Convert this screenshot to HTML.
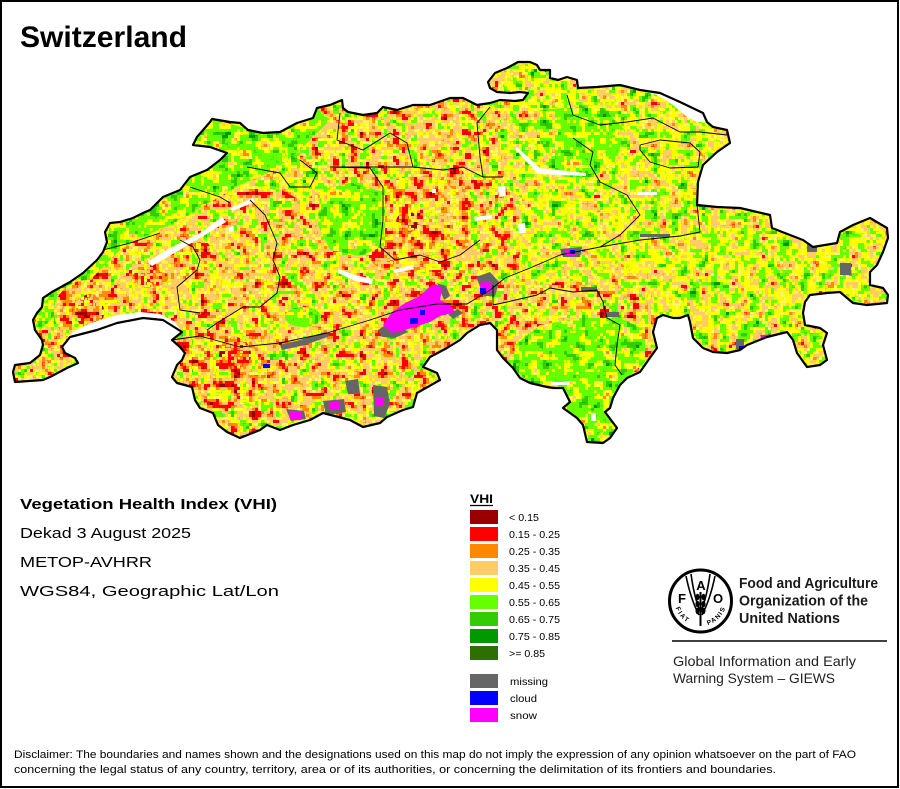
<!DOCTYPE html>
<html><head><meta charset="utf-8"><style>
html,body{margin:0;padding:0;background:#fff;}
svg{display:block;}
</style></head><body>
<svg width="900" height="789" viewBox="0 0 900 789" xmlns="http://www.w3.org/2000/svg" font-family="'Liberation Sans', Arial, sans-serif">
<defs>
<filter id="fA" filterUnits="userSpaceOnUse" primitiveUnits="userSpaceOnUse" x="0" y="0" width="900" height="460" color-interpolation-filters="sRGB">
 <feTurbulence type="fractalNoise" baseFrequency="0.1" numOctaves="3" seed="7" result="n"/>
 <feColorMatrix in="n" type="matrix" values="1.7 0 0 0 -0.35 1.7 0 0 0 -0.35 1.7 0 0 0 -0.35 0 0 0 0 1" result="s"/>
 <feComponentTransfer in="s" result="c">
  <feFuncR type="discrete" tableValues=".6 1 1 1 1 1 1 1 1 1 1 1 1 1 .4 .4 .4 .4 .2 .2"/>
  <feFuncG type="discrete" tableValues="0 0 0 0 0 .55 .55 .8 .8 .8 .8 1 1 1 1 1 1 1 .8 .8"/>
  <feFuncB type="discrete" tableValues="0 0 0 0 0 0 0 .4 .4 .4 .4 0 0 0 0 0 0 0 0 0"/>
 </feComponentTransfer>
 <feFlood x="1" y="1" width="1" height="1" flood-color="#000" result="f"/>
 <feComposite in="f" in2="f" operator="over" x="0" y="0" width="3" height="3"/>
 <feTile result="t"/>
 <feComposite in="c" in2="t" operator="in"/>
 <feMorphology operator="dilate" radius="1"/>
</filter>
<filter id="fB" filterUnits="userSpaceOnUse" primitiveUnits="userSpaceOnUse" x="0" y="0" width="900" height="460" color-interpolation-filters="sRGB">
 <feTurbulence type="fractalNoise" baseFrequency="0.1" numOctaves="3" seed="7" result="n"/>
 <feColorMatrix in="n" type="matrix" values="1.7 0 0 0 -0.35 1.7 0 0 0 -0.35 1.7 0 0 0 -0.35 0 0 0 0 1" result="s"/>
 <feComponentTransfer in="s" result="c">
  <feFuncR type="discrete" tableValues="1 1 1 1 1 1 1 1 .4 .4 .4 .4 .4 .4 .2 .2 .2 .2 0 0"/>
  <feFuncG type="discrete" tableValues=".55 .8 .8 1 1 1 1 1 1 1 1 1 1 1 .8 .8 .8 .8 .6 .6"/>
  <feFuncB type="discrete" tableValues="0 .4 .4 0 0 0 0 0 0 0 0 0 0 0 0 0 0 0 0 0"/>
 </feComponentTransfer>
 <feFlood x="1" y="1" width="1" height="1" flood-color="#000" result="f"/>
 <feComposite in="f" in2="f" operator="over" x="0" y="0" width="3" height="3"/>
 <feTile result="t"/>
 <feComposite in="c" in2="t" operator="in"/>
 <feMorphology operator="dilate" radius="1"/>
</filter>
<filter id="fC" filterUnits="userSpaceOnUse" primitiveUnits="userSpaceOnUse" x="0" y="0" width="900" height="460" color-interpolation-filters="sRGB">
 <feTurbulence type="fractalNoise" baseFrequency="0.1" numOctaves="3" seed="7" result="n"/>
 <feColorMatrix in="n" type="matrix" values="1.7 0 0 0 -0.35 1.7 0 0 0 -0.35 1.7 0 0 0 -0.35 0 0 0 0 1" result="s"/>
 <feComponentTransfer in="s" result="c">
  <feFuncR type="discrete" tableValues="1 1 1 1 1 1 1 1 1 1 1 1 .4 .4 .4 .4 .2 .2 .2 0"/>
  <feFuncG type="discrete" tableValues="0 .55 .55 .8 .8 .8 .8 .8 1 1 1 1 1 1 1 1 .8 .8 .8 .6"/>
  <feFuncB type="discrete" tableValues="0 0 0 .4 .4 .4 .4 .4 0 0 0 0 0 0 0 0 0 0 0 0"/>
 </feComponentTransfer>
 <feFlood x="1" y="1" width="1" height="1" flood-color="#000" result="f"/>
 <feComposite in="f" in2="f" operator="over" x="0" y="0" width="3" height="3"/>
 <feTile result="t"/>
 <feComposite in="c" in2="t" operator="in"/>
 <feMorphology operator="dilate" radius="1"/>
</filter>
<filter id="fD" filterUnits="userSpaceOnUse" primitiveUnits="userSpaceOnUse" x="0" y="0" width="900" height="460" color-interpolation-filters="sRGB">
 <feTurbulence type="fractalNoise" baseFrequency="0.1" numOctaves="3" seed="7" result="n"/>
 <feColorMatrix in="n" type="matrix" values="1.7 0 0 0 -0.35 1.7 0 0 0 -0.35 1.7 0 0 0 -0.35 0 0 0 0 1" result="s"/>
 <feComponentTransfer in="s" result="c">
  <feFuncR type="discrete" tableValues=".6 .6 .6 1 1 1 1 1 1 1 1 1 1 1 1 1 1 .6 .6 .6"/>
  <feFuncG type="discrete" tableValues="0 0 0 0 0 0 0 .55 .55 .55 .8 .8 0 0 1 1 .8 0 0 0"/>
  <feFuncB type="discrete" tableValues="0 0 0 0 0 0 0 0 0 0 .4 .4 0 0 0 0 .4 0 0 0"/>
 </feComponentTransfer>
 <feFlood x="1" y="1" width="1" height="1" flood-color="#000" result="f"/>
 <feComposite in="f" in2="f" operator="over" x="0" y="0" width="3" height="3"/>
 <feTile result="t"/>
 <feComposite in="c" in2="t" operator="in"/>
 <feMorphology operator="dilate" radius="1"/>
</filter>
<filter id="fE" filterUnits="userSpaceOnUse" primitiveUnits="userSpaceOnUse" x="0" y="0" width="900" height="460" color-interpolation-filters="sRGB">
 <feTurbulence type="fractalNoise" baseFrequency="0.1" numOctaves="3" seed="7" result="n"/>
 <feColorMatrix in="n" type="matrix" values="1.7 0 0 0 -0.35 1.7 0 0 0 -0.35 1.7 0 0 0 -0.35 0 0 0 0 1" result="s"/>
 <feComponentTransfer in="s" result="c">
  <feFuncR type="discrete" tableValues=".6 .6 1 1 1 1 1 1 1 1 1 1 1 1 1 .4 .4 1 1 1"/>
  <feFuncG type="discrete" tableValues="0 0 0 0 0 0 .55 .55 .55 .8 .8 .8 1 1 1 1 1 1 1 1"/>
  <feFuncB type="discrete" tableValues="0 0 0 0 0 0 0 0 0 .4 .4 .4 0 0 0 0 0 0 0 0"/>
 </feComponentTransfer>
 <feFlood x="1" y="1" width="1" height="1" flood-color="#000" result="f"/>
 <feComposite in="f" in2="f" operator="over" x="0" y="0" width="3" height="3"/>
 <feTile result="t"/>
 <feComposite in="c" in2="t" operator="in"/>
 <feMorphology operator="dilate" radius="1"/>
</filter>

<clipPath id="cCH"><polygon id="chpoly" points="13,372 15,365 30,363 40,355 43,345 42,340 35,330 33,320 37,313 42,307 43,298 52,292 70,282 83,273 97,260 103,252 107,242 105,232 110,223 120,222 133,218 143,213 150,210 163,197 180,190 190,177 207,170 220,160 227,153 210,147 193,145 197,137 210,122 212,119 230,122 240,123 248,130 263,133 280,132 297,123 313,118 317,108 330,105 342,100 343,108 348,112 363,115 377,113 383,107 397,110 413,105 430,105 450,98 463,98 477,105 490,103 500,100 515,101 523,100 528,93 520,92 510,93 497,92 490,88 488,82 495,73 507,68 518,62 530,62 537,65 540,70 550,70 550,78 558,80 567,77 577,80 578,88 597,87 620,85 640,90 660,93 680,102 703,113 707,122 713,127 727,130 730,143 717,152 703,165 698,182 697,205 717,207 740,208 770,215 772,228 790,235 803,240 813,247 837,243 840,232 853,225 870,218 887,228 888,238 883,252 877,265 870,272 870,285 883,288 888,295 887,303 867,305 853,303 840,292 827,293 810,295 805,302 803,313 805,325 820,328 827,333 823,345 827,360 820,365 807,367 797,353 793,340 787,332 767,337 747,345 740,350 727,353 713,352 703,348 693,338 690,322 688,315 680,318 673,318 663,315 657,318 653,332 657,348 647,362 640,372 627,378 620,385 613,398 610,408 605,412 617,428 610,438 603,443 587,442 583,425 577,418 563,408 570,402 563,388 553,388 547,387 530,383 520,378 513,368 503,358 497,350 497,330 490,323 480,325 467,333 460,340 447,348 430,357 423,367 437,373 440,380 417,393 413,407 403,410 387,417 380,423 363,427 350,420 323,413 310,420 293,425 280,430 267,425 260,430 240,438 227,432 218,425 213,413 200,408 195,400 192,387 177,383 172,377 177,365 182,360 185,353 180,347 172,340 182,332 163,320 143,318 117,323 97,330 70,337 62,347 65,353 75,358 78,363 67,368 50,377 43,380 15,382"/></clipPath>
<clipPath id="cC">
 <polygon points="500,100 507,68 537,62 550,78 578,88 640,90 703,113 730,143 698,182 697,205 640,212 580,210 530,205 510,190 500,150"/>
 <polygon points="600,212 697,205 770,215 803,240 840,232 870,218 890,238 870,285 890,295 867,306 840,292 805,302 805,325 827,333 827,360 807,367 793,340 767,337 727,353 693,338 688,315 657,318 650,290 620,262 600,240"/>
 <polygon points="530,205 600,212 600,240 620,262 580,280 540,285 520,260 520,225"/>
 <polygon points="275,160 320,155 330,190 300,200 272,185"/>
</clipPath>
<clipPath id="cB">
 <polygon points="40,330 35,318 42,307 52,292 70,282 97,260 107,242 110,223 143,213 163,197 190,177 227,153 193,145 212,119 253,130 297,123 317,108 330,120 300,150 275,170 240,185 205,205 170,225 140,238 120,250 100,270 75,295 55,315"/>
 <polygon points="320,190 350,183 385,192 392,215 386,245 360,256 330,250 318,225"/>
 <polygon points="540,110 600,105 625,130 615,165 585,180 555,170 540,140"/>
 <polygon points="515,345 540,325 580,318 620,318 645,330 645,362 627,378 613,398 617,428 603,443 587,442 577,418 563,408 563,388 530,383 513,368"/>
 <ellipse cx="303" cy="317" rx="18" ry="10"/>
</clipPath>
<clipPath id="cE">
 <polygon points="385,180 430,175 470,190 470,245 440,272 395,272 385,250"/>
 <ellipse cx="88" cy="312" rx="34" ry="32"/>
 <polygon points="195,330 250,335 270,360 260,400 225,410 200,395 190,360"/>
</clipPath>
<clipPath id="cD">
 <ellipse cx="385" cy="258" rx="14" ry="10"/>
 <ellipse cx="408" cy="222" rx="12" ry="10"/>
 <ellipse cx="455" cy="177" rx="9" ry="12"/>
 <ellipse cx="90" cy="312" rx="14" ry="18"/>
 <ellipse cx="235" cy="355" rx="16" ry="18"/>
 <ellipse cx="150" cy="278" rx="18" ry="9"/>
 <ellipse cx="200" cy="248" rx="10" ry="8"/>
</clipPath>
</defs>

<rect x="0" y="0" width="900" height="789" fill="#fff"/>

<g clip-path="url(#cCH)">
 <rect x="0" y="40" width="900" height="420" fill="#e8cf3c"/>
 <rect x="0" y="0" width="900" height="460" fill="#e8cf3c" filter="url(#fA)"/>
 <g clip-path="url(#cC)"><rect x="0" y="0" width="900" height="460" fill="#c8e830" filter="url(#fC)"/></g>
 <g clip-path="url(#cB)"><rect x="0" y="0" width="900" height="460" fill="#90dc20" filter="url(#fB)"/></g>
 <g clip-path="url(#cE)"><rect x="0" y="0" width="900" height="460" fill="#f0a030" filter="url(#fE)"/></g>
 <g clip-path="url(#cD)"><rect x="0" y="0" width="900" height="460" fill="#e05010" filter="url(#fD)"/></g>

 <!-- missing (gray) -->
 <g fill="#666666">
  <polygon points="378,330 390,322 400,326 408,332 395,338 382,337"/>
  <polygon points="437,283 446,286 450,296 444,300"/>
  <polygon points="448,314 458,309 463,313 453,319"/>
  <polygon points="280,345 300,340 325,332 330,336 305,345 282,350"/>
  <polygon points="476,277 490,272 499,282 495,296 484,296"/>
  <polygon points="560,249 582,247 580,257 563,257"/>
  <polygon points="345,381 358,379 360,394 348,394"/>
  <polygon points="373,385 387,387 390,404 384,418 374,416"/>
  <polygon points="323,401 344,399 346,412 326,415"/>
  <polygon points="286,409 304,411 306,419 291,421"/>
  <rect x="840" y="263" width="11" height="12"/>
  <rect x="807" y="244" width="10" height="8"/>
  <rect x="606" y="312" width="13" height="5"/>
  <rect x="581" y="287" width="16" height="5"/>
  <rect x="640" y="234" width="30" height="3"/>
  <rect x="736" y="339" width="8" height="10"/>
 </g>
 <!-- snow -->
 <g fill="#ff00ff">
  <polygon points="383,325 392,312 405,303 420,296 428,288 436,284 442,289 440,300 450,305 455,312 440,316 430,322 418,326 405,330 392,333"/>
  <polygon points="479,283 490,281 492,292 482,294"/>
  <rect x="330" y="402" width="10" height="8"/>
  <rect x="290" y="411" width="11" height="9"/>
  <rect x="376" y="398" width="8" height="8"/>
  <polygon points="760,335 790,334 792,342 762,342"/>
  <rect x="565" y="249" width="10" height="6"/>
 </g>
 <!-- cloud -->
 <g fill="#0000ff">
  <rect x="410" y="318" width="8" height="6"/>
  <rect x="420" y="310" width="5" height="5"/>
  <rect x="480" y="288" width="6" height="6"/>
  <rect x="570" y="250" width="5" height="4"/>
  <rect x="263" y="364" width="7" height="4"/>
  <rect x="775" y="343" width="4" height="5"/>
  <rect x="739" y="346" width="4" height="5"/>
 </g>
 <!-- lakes -->
 <g fill="#fff">
  <polygon points="65,345 70,337 97,330 117,323 143,318 163,320 182,332 175,322 160,314 140,312 117,315 97,321 80,328 68,336"/>
  <polygon points="147,262 170,248 200,233 222,217 226,222 205,235 178,251 152,266"/>
  <polygon points="230,208 253,198 255,202 232,211"/>
  <polygon points="228,228 233,226 234,231 229,232"/>
  <polygon points="338,269 355,275 373,279 372,284 355,281 338,273"/>
  <polygon points="393,270 412,265 414,269 395,273"/>
  <polygon points="515,149 517,147 540,168 586,173 586,176 538,174"/>
  <rect x="637" y="192" width="20" height="3"/>
  <polygon points="498,187 505,186 506,196 499,197"/>
  <polygon points="474,217 492,215 492,219 475,221"/>
  <polygon points="518,224 525,223 526,233 519,233"/>
  <rect x="432" y="189" width="4" height="4"/>
  <polygon points="591,413 596,413 596,421 591,421"/>
  <rect x="551" y="382" width="18" height="3"/>
  <polygon points="640,90 660,93 680,102 703,113 707,122 697,122 687,117 673,105 657,95"/>
 </g>
 <!-- canton boundaries -->
 <g fill="none" stroke="#000" stroke-width="0.9" stroke-linejoin="round">
  <polyline points="172,340 200,336 240,347 280,343 327,333 370,320 400,310 437,304 467,304 490,290 505,278 530,268 560,255 600,247 640,240 680,236 700,232 697,205"/>
  <polyline points="493,285 493,305 507,302 537,295 550,288 573,292 597,290 603,302 607,318 620,325 617,345 615,365 622,375"/>
  <polyline points="330,167 370,168 383,187 383,220 380,247 395,260 420,255 440,262 460,255 480,240"/>
  <polyline points="250,200 265,215 277,243 273,260 280,277 277,293 260,307 243,307 217,323 207,330"/>
  <polyline points="180,240 193,247 200,260 197,270 177,287 180,310 200,313"/>
  <polyline points="103,250 130,243 160,233"/>
  <polyline points="190,187 220,197 230,203"/>
  <polyline points="247,167 280,173 290,187 310,187 317,173 300,160"/>
  <polyline points="330,167 370,167 413,167 443,170 463,167 483,177 503,177"/>
  <polyline points="490,107 477,123 480,157 483,177"/>
  <polyline points="340,113 337,140 363,150 390,133 407,143 413,167"/>
  <polyline points="567,95 573,115 600,125 627,122 653,118 680,132 700,132 727,135"/>
  <polyline points="573,138 593,152 590,165 600,182 627,195 640,215 620,235 600,247"/>
  <polygon points="640,145 660,140 690,143 700,152 698,167 670,168 650,162 640,150"/>
 </g>
</g>
<use href="#chpoly" fill="none" stroke="#000" stroke-width="2.2" stroke-linejoin="round"/>

<!-- frame -->
<rect x="1" y="1" width="897" height="786" fill="none" stroke="#000" stroke-width="2"/>

<!-- title -->
<text x="20" y="47" font-size="30" font-weight="bold" textLength="167" lengthAdjust="spacingAndGlyphs" fill="#000">Switzerland</text>

<!-- left text block -->
<text x="20" y="509" font-size="15" font-weight="bold" textLength="257" lengthAdjust="spacingAndGlyphs">Vegetation Health Index (VHI)</text>
<text x="20" y="538" font-size="15" textLength="171" lengthAdjust="spacingAndGlyphs">Dekad 3 August 2025</text>
<text x="20" y="567" font-size="15" textLength="132" lengthAdjust="spacingAndGlyphs">METOP-AVHRR</text>
<text x="20" y="596" font-size="15" textLength="259" lengthAdjust="spacingAndGlyphs">WGS84, Geographic Lat/Lon</text>

<!-- legend -->
<text x="470" y="503" font-size="12" font-weight="bold" textLength="23" lengthAdjust="spacingAndGlyphs">VHI</text>
<line x1="470" y1="505.5" x2="493" y2="505.5" stroke="#000" stroke-width="1.2"/>
<g>
 <rect x="470" y="510" width="28" height="14" fill="#990000"/>
 <rect x="470" y="527" width="28" height="14" fill="#ff0000"/>
 <rect x="470" y="544" width="28" height="14" fill="#ff8800"/>
 <rect x="470" y="561" width="28" height="14" fill="#ffcc66"/>
 <rect x="470" y="578" width="28" height="14" fill="#ffff00"/>
 <rect x="470" y="595" width="28" height="14" fill="#66ff00"/>
 <rect x="470" y="612" width="28" height="14" fill="#33cc00"/>
 <rect x="470" y="629" width="28" height="14" fill="#009900"/>
 <rect x="470" y="646" width="28" height="14" fill="#2b7000"/>
 <rect x="470" y="674" width="28" height="14" fill="#666666"/>
 <rect x="470" y="691" width="28" height="14" fill="#0000ff"/>
 <rect x="470" y="708" width="28" height="14" fill="#ff00ff"/>
</g>
<g font-size="10.5" fill="#000">
 <text x="509" y="521" textLength="30" lengthAdjust="spacingAndGlyphs">&lt; 0.15</text>
 <text x="509" y="538" textLength="51" lengthAdjust="spacingAndGlyphs">0.15 - 0.25</text>
 <text x="509" y="555" textLength="51" lengthAdjust="spacingAndGlyphs">0.25 - 0.35</text>
 <text x="509" y="572" textLength="51" lengthAdjust="spacingAndGlyphs">0.35 - 0.45</text>
 <text x="509" y="589" textLength="51" lengthAdjust="spacingAndGlyphs">0.45 - 0.55</text>
 <text x="509" y="606" textLength="51" lengthAdjust="spacingAndGlyphs">0.55 - 0.65</text>
 <text x="509" y="623" textLength="51" lengthAdjust="spacingAndGlyphs">0.65 - 0.75</text>
 <text x="509" y="640" textLength="51" lengthAdjust="spacingAndGlyphs">0.75 - 0.85</text>
 <text x="509" y="657" textLength="36" lengthAdjust="spacingAndGlyphs">&gt;= 0.85</text>
 <text x="510" y="685" textLength="38" lengthAdjust="spacingAndGlyphs">missing</text>
 <text x="510" y="702" textLength="27" lengthAdjust="spacingAndGlyphs">cloud</text>
 <text x="510" y="719" textLength="27" lengthAdjust="spacingAndGlyphs">snow</text>
</g>

<!-- FAO logo -->
<g>
 <circle cx="700.5" cy="601" r="31" fill="none" stroke="#000" stroke-width="3"/>
 <text x="678" y="603" font-size="13" font-weight="bold">F</text>
 <text x="701" y="590" font-size="13" font-weight="bold" text-anchor="middle">A</text>
 <text x="713" y="603" font-size="13" font-weight="bold">O</text>
 <g fill="none" stroke="#000" stroke-width="1.6">
  <path d="M686,576 Q691,600 699,615"/>
  <path d="M715,576 Q710,600 702,615"/>
  <path d="M691,574 Q694,596 699.5,610"/>
  <path d="M710,574 Q707,596 701.5,610"/>
  <line x1="700.5" y1="592" x2="700.5" y2="626" stroke-width="2"/>
 </g>
 <g fill="#000">
  <ellipse cx="697.5" cy="597" rx="2" ry="3.2"/>
  <ellipse cx="703.5" cy="597" rx="2" ry="3.2"/>
  <ellipse cx="697.5" cy="604" rx="2" ry="3.2"/>
  <ellipse cx="703.5" cy="604" rx="2" ry="3.2"/>
  <ellipse cx="697.5" cy="611" rx="2" ry="3.2"/>
  <ellipse cx="703.5" cy="611" rx="2" ry="3.2"/>
 </g>
 <path id="faoArc" d="M675.2,606 A26,26 0 0 0 725.8,606" fill="none"/>
 <text font-size="6.5" font-weight="bold" letter-spacing="1.5"><textPath href="#faoArc" startOffset="2">FIAT</textPath></text>
 <text font-size="6.5" font-weight="bold" letter-spacing="1.3"><textPath href="#faoArc" startOffset="42">PANIS</textPath></text>
</g>
<g fill="#1a1a1a" font-weight="bold" font-size="15">
 <text x="739" y="588" textLength="139" lengthAdjust="spacingAndGlyphs">Food and Agriculture</text>
 <text x="739" y="605.5" textLength="129" lengthAdjust="spacingAndGlyphs">Organization of the</text>
 <text x="739" y="623" textLength="101" lengthAdjust="spacingAndGlyphs">United Nations</text>
</g>
<line x1="672" y1="641" x2="887" y2="641" stroke="#000" stroke-width="1.5"/>
<g fill="#222" font-size="14">
 <text x="673" y="666" textLength="183" lengthAdjust="spacingAndGlyphs">Global Information and Early</text>
 <text x="673" y="683" textLength="162" lengthAdjust="spacingAndGlyphs">Warning System – GIEWS</text>
</g>

<!-- disclaimer -->
<g font-size="11" fill="#000">
 <text x="14" y="758" textLength="842" lengthAdjust="spacingAndGlyphs">Disclaimer: The boundaries and names shown and the designations used on this map do not imply the expression of any opinion whatsoever on the part of FAO</text>
 <text x="14" y="773" textLength="762" lengthAdjust="spacingAndGlyphs">concerning the legal status of any country, territory, area or of its authorities, or concerning the delimitation of its frontiers and boundaries.</text>
</g>
</svg>
</body></html>
